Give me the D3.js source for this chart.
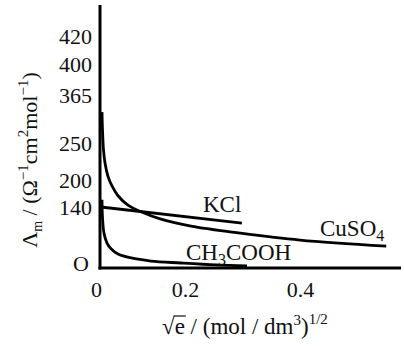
<!DOCTYPE html>
<html>
<head>
<meta charset="utf-8">
<script src="https://cdn.jsdelivr.net/npm/d3@7"></script>
<style>
  html, body { margin: 0; padding: 0; background: #fff; }
  svg { display: block; }
</style>
</head>
<body>
<svg id="chart" width="404" height="350"></svg>
<script>
// ---- data (schematic values) ----
const yTickValues = [0, 140, 200, 250, 365, 400, 420];
const yTickLabels = ["O", "140", "200", "250", "365", "400", "420"];
const xTickValues = [0, 0.2, 0.4];
const xTickLabels = ["0", "0.2", "0.4"];

const kclX = [0.002, 0.299];
const kclY = [140, 103];

const cuso4X = [0.0047, 0.0059, 0.0082, 0.0118, 0.0188, 0.0282, 0.0424, 0.0659, 0.0965, 0.1435, 0.2104, 0.2957, 0.4, 0.55];
const cuso4Y = [324, 281, 241, 223, 205, 187, 165, 144, 129, 112, 96, 80, 64, 50];

const aceticX = [0.0047, 0.0059, 0.0094, 0.0165, 0.0259, 0.0424, 0.0729, 0.12, 0.1906, 0.2539, 0.3078];
const aceticY = [156, 115, 80, 57, 44, 32, 23, 16, 11.5, 7, 4.6];

const seriesNames = ["KCl", "CuSO4", "CH3COOH"];

const FONT = "'Liberation Serif', 'Times New Roman', 'DejaVu Serif', serif";

// ---- scales (schematic, piecewise axes as in the original) ----
const x = d3.scaleLinear().domain([0, 0.2, 0.4]).range([100, 185, 300]);
const y = d3.scaleLinear().domain(yTickValues).range([268, 207, 180, 143, 95, 64, 36]);

const svg = d3.select("#chart").attr("font-family", FONT).style("font-family", FONT);

// axes lines
const axisG = svg.append("g").attr("stroke", "#000").attr("stroke-width", 3).attr("fill", "none");
axisG.append("line").attr("x1", x(0)).attr("x2", x(0)).attr("y1", y(0) + 1.5).attr("y2", 5);
axisG.append("line").attr("x1", x(0) - 1.5).attr("x2", 401).attr("y1", y(0)).attr("y2", y(0));

// y ticks via d3 axis (labels only)
const yAxis = d3.axisLeft(y).tickValues(yTickValues)
  .tickFormat((d, i) => yTickLabels[i]).tickSize(0).tickPadding(8);
const yg = svg.append("g").attr("transform", `translate(${x(0)},0)`).call(yAxis)
  .attr("font-family", FONT).attr("font-size", 22);
yg.select(".domain").remove();
yg.selectAll("text").style("font-family", FONT).style("font-size", "22px").attr("fill", "#111")
  .attr("dx", d => d === 0 ? -3 : 0)
  .attr("dy", d => d === 0 ? "0.1em" : "0.34em");

// x ticks via d3 axis
const xAxis = d3.axisBottom(x).tickValues(xTickValues)
  .tickFormat((d, i) => xTickLabels[i]).tickSize(0).tickPadding(13);
const xg = svg.append("g").attr("transform", `translate(0,${y(0)})`).call(xAxis)
  .attr("font-family", FONT).attr("font-size", 22);
xg.select(".domain").remove();
xg.selectAll("text").style("font-family", FONT).style("font-size", "22px").attr("fill", "#111")
  .attr("dx", d => d === 0 ? -4 : 0);

// curves
const line = d3.line().x(d => x(d[0])).y(d => y(d[1])).curve(d3.curveCatmullRom.alpha(0.5));
const mk = (xs, ys) => xs.map((v, i) => [v, ys[i]]);
const curveG = svg.append("g").attr("fill", "none").attr("stroke", "#000").attr("stroke-width", 2.8);
curveG.append("path").attr("d", d3.line().x(d => x(d[0])).y(d => y(d[1]))(mk(kclX, kclY)));
curveG.append("path").attr("d", line(mk(cuso4X, cuso4Y)));
curveG.append("path").attr("d", line(mk(aceticX, aceticY)));

// series labels
const lab = svg.append("g").style("font-size", "23px").attr("fill", "#111");
lab.append("text").attr("x", 203).attr("y", 212).text(seriesNames[0]);
const cu = lab.append("text").attr("x", 320).attr("y", 236);
cu.append("tspan").text("CuSO");
cu.append("tspan").attr("dy", 5).style("font-size", "16px").text("4");
const ac = lab.append("text").attr("x", 186).attr("y", 260);
ac.append("tspan").text("CH");
ac.append("tspan").attr("dy", 5).style("font-size", "16px").text("3");
ac.append("tspan").attr("dy", -5).text("COOH");

// x-axis title
const xt = svg.append("text").attr("x", 162).attr("y", 334).style("font-size", "23px").attr("fill", "#111");
xt.append("tspan").text("√");
xt.append("tspan").text("e");
xt.append("tspan").text(" / (mol / dm");
xt.append("tspan").attr("dy", -9).style("font-size", "15px").text("3");
xt.append("tspan").attr("dy", 9).text(")");
xt.append("tspan").attr("dy", -10).style("font-size", "15px").text("1/2");
const tNode = xt.node();
const eStart = tNode.getStartPositionOfChar(1);
const eEnd = tNode.getEndPositionOfChar(1);
svg.append("line").attr("x1", eStart.x - 1).attr("x2", eEnd.x + 1)
  .attr("y1", 316).attr("y2", 316).attr("stroke", "#111").attr("stroke-width", 1.2);

// y-axis title (rotated)
const yt = svg.append("text").attr("transform", "translate(37,160) rotate(-90)")
  .attr("text-anchor", "middle").style("font-size", "22px").attr("fill", "#111");
yt.append("tspan").text("Λ");
yt.append("tspan").attr("dy", 5).style("font-size", "14px").text("m");
yt.append("tspan").attr("dy", -5).text(" / (Ω");
yt.append("tspan").attr("dy", -9).style("font-size", "15px").text("−1");
yt.append("tspan").attr("dy", 9).text("cm");
yt.append("tspan").attr("dy", -9).style("font-size", "15px").text("2");
yt.append("tspan").attr("dy", 9).text("mol");
yt.append("tspan").attr("dy", -9).style("font-size", "15px").text("−1");
yt.append("tspan").attr("dy", 9).text(")");
</script>
</body>
</html>
